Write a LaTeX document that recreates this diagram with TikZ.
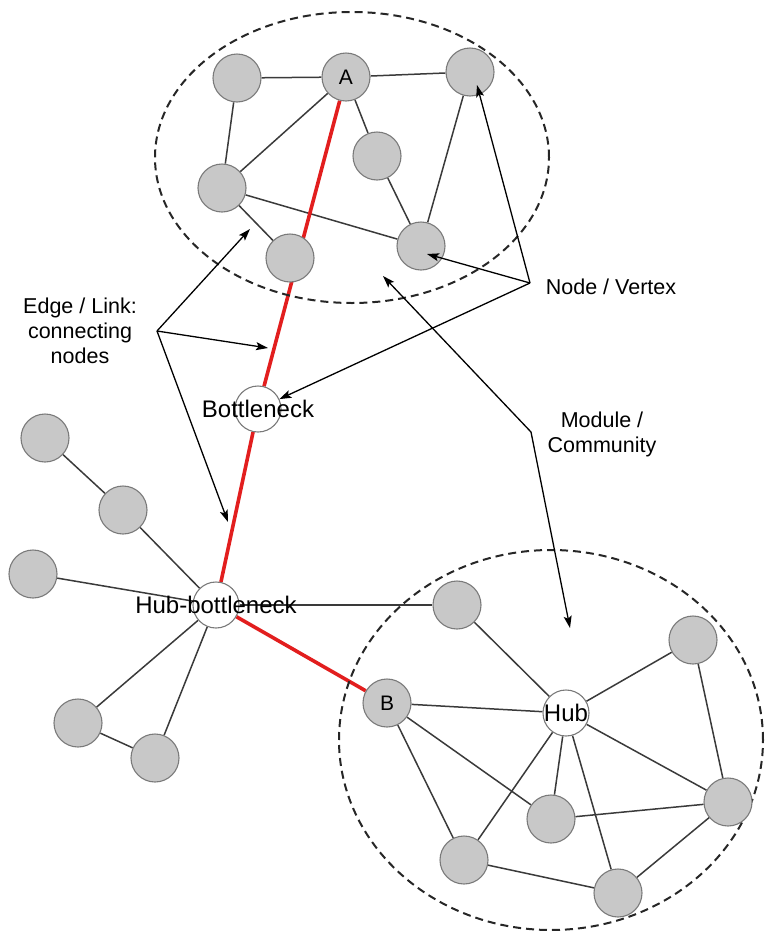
\documentclass[tikz,border=0pt]{standalone}
\usepackage{fontspec}
\setmainfont{Liberation Sans}
\usetikzlibrary{arrows.meta}
\pgfdeclarelayer{background}
\pgfsetlayers{background,main}
\definecolor{nodegray}{HTML}{C8C8C8}
\definecolor{rimgray}{HTML}{7A7A7A}
\definecolor{linkgray}{HTML}{3A3A3A}
\definecolor{pathred}{HTML}{E21E1E}

\begin{document}
\begin{tikzpicture}[x=1pt,y=-1pt,
  vert/.style={circle, draw=rimgray, line width=1.1pt, fill=nodegray,
    minimum size=48pt, inner sep=0pt, font=\fontsize{21}{21}\selectfont},
  keyvert/.style={vert, fill=white, minimum size=46pt},
  tag/.style={font=\fontsize{24}{24}\selectfont, inner sep=0pt},
  link/.style={draw=linkgray, line width=1.5pt},
  redlink/.style={draw=pathred, line width=3.6pt},
  community/.style={draw=black!85, line width=2pt, dash pattern=on 8pt off 5pt},
  tipshape/.tip={Stealth[length=12pt,width=8pt,inset=2.5pt]},
  pointer/.style={draw=black, line width=1.3pt, -tipshape},
  twopointer/.style={draw=black, line width=1.3pt, tipshape-tipshape},
  note/.style={font=\fontsize{21.5}{25}\selectfont, align=center, inner sep=0pt}
]
\useasboundingbox (0,0) rectangle (764,935);

% communities
\draw[community] (352,157.5) ellipse [x radius=197pt, y radius=145.5pt];
\draw[community] (551,740) ellipse [x radius=212pt, y radius=190pt];

% upper community
\node[vert] (t1) at (237,78) {};
\node[vert] (A)  at (346,77) {A};
\node[vert] (t3) at (470,72) {};
\node[vert] (t4) at (377,156) {};
\node[vert] (t5) at (222,188) {};
\node[vert] (t6) at (290,258) {};
\node[vert] (t7) at (421,246) {};

% bridge vertices
\node[keyvert, label={[tag]center:Bottleneck}] (Bot) at (258,409) {};
\node[keyvert, label={[tag]center:Hub-bottleneck}] (HB) at (216,605) {};

% left branch
\node[vert] (l1) at (45,438) {};
\node[vert] (l2) at (123,510) {};
\node[vert] (l3) at (33,574) {};
\node[vert] (l4) at (78,723) {};
\node[vert] (l5) at (155,758) {};

% lower community
\node[vert] (m1) at (457,605) {};
\node[vert] (B)  at (387,703) {B};
\node[keyvert, label={[tag]center:Hub}] (Hub) at (566,713) {};
\node[vert] (m3) at (693,640) {};
\node[vert] (m4) at (551,819) {};
\node[vert] (m5) at (728,802) {};
\node[vert] (m6) at (464,860) {};
\node[vert] (m7) at (618,893) {};

\begin{pgfonlayer}{background}
  % upper community links
  \draw[link] (t1) -- (A);
  \draw[link] (A) -- (t3);
  \draw[link] (t1) -- (t5);
  \draw[link] (A) -- (t5);
  \draw[link] (A) -- (t4);
  \draw[link] (t4) -- (t7);
  \draw[link] (t3) -- (t7);
  \draw[link] (t5) -- (t7);
  \draw[link] (t5) -- (t6);
  % left branch links
  \draw[link] (l1) -- (l2);
  \draw[link] (l2) -- (HB);
  \draw[link] (l3) -- (HB);
  \draw[link] (HB) -- (l4);
  \draw[link] (HB) -- (l5);
  \draw[link] (l4) -- (l5);
  \draw[link] (HB) -- (m1);
  % lower community links
  \draw[link] (m1) -- (Hub);
  \draw[link] (B) -- (Hub);
  \draw[link] (Hub) -- (m3);
  \draw[link] (Hub) -- (m5);
  \draw[link] (Hub) -- (m4);
  \draw[link] (Hub) -- (m6);
  \draw[link] (Hub) -- (m7);
  \draw[link] (B) -- (m4);
  \draw[link] (B) -- (m6);
  \draw[link] (m3) -- (m5);
  \draw[link] (m4) -- (m5);
  \draw[link] (m6) -- (m7);
  \draw[link] (m7) -- (m5);
  % shortest path A to B
  \draw[redlink] (A) -- (Bot);
  \draw[redlink] (Bot) -- (HB);
  \draw[redlink] (HB) -- (B);
\end{pgfonlayer}

% annotation: edges
\node[note] (edgenote) at (80,331) {Edge / Link:\\connecting\\nodes};
\coordinate (el) at (157,331);
\coordinate (elA) at (250,229);
\coordinate (elB) at (268,348);
\coordinate (elC) at (228,522);
\draw[pointer] (el) -- (elA);
\draw[pointer] (el) -- (elB);
\draw[pointer] (el) -- (elC);

% annotation: vertices
\node[note] (vertnote) at (611,287) {Node / Vertex};
\coordinate (nv) at (530,283);
\coordinate (nvA) at (477,85);
\coordinate (nvB) at (427,254);
\draw[pointer] (nv) -- (nvA);
\draw[pointer] (nv) -- (nvB);
\draw[pointer] (nv) -- (Bot);

% annotation: communities
\node[note] (modnote) at (602,434) {Module /\\Community};
\coordinate (mcA) at (383,276);
\coordinate (mcK) at (531,432);
\coordinate (mcB) at (570,628);
\draw[twopointer] (mcA) -- (mcK) -- (mcB);
\end{tikzpicture}
\end{document}
